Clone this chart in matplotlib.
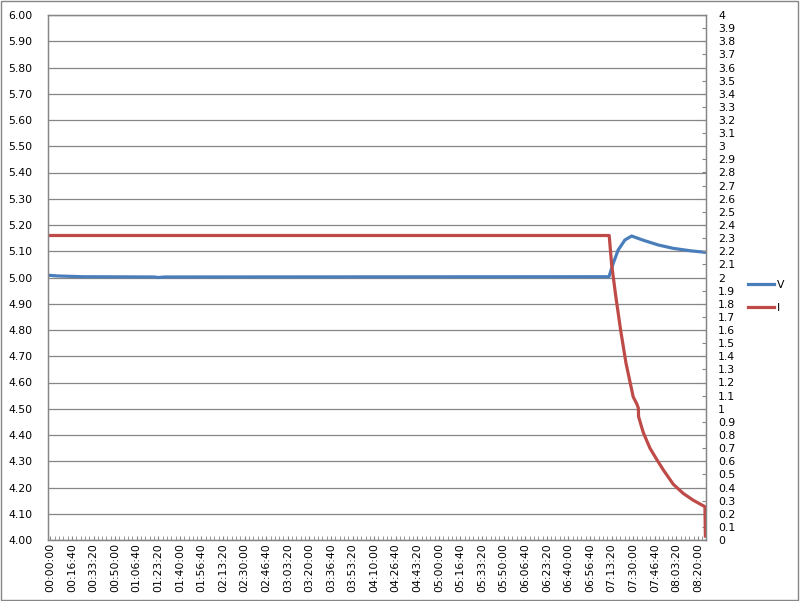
import matplotlib
matplotlib.use("Agg")
import matplotlib.pyplot as plt
from matplotlib.ticker import MultipleLocator, FuncFormatter
from matplotlib.patches import Rectangle

# readings (seconds since start)
t_v = [0, 300, 1500, 4800, 5000, 5300, 25880, 26075, 26307, 26617, 26928,
       27465, 28160, 28856, 29629, 30340]
volts = [5.008, 5.006, 5.003, 5.002, 5.000, 5.002, 5.003, 5.054, 5.105, 5.143,
         5.158, 5.142, 5.124, 5.111, 5.102, 5.096]

t_i = [0, 25889, 26001, 26200, 26418, 26664, 27002, 27160, 27240, 27250,
       27465, 27776, 28086, 28392, 28856, 29319, 29782, 30324, 30345]
amps = [2.32, 2.32, 2.10, 1.85, 1.60, 1.35, 1.09, 1.04, 1.005, 0.94,
        0.82, 0.70, 0.615, 0.535, 0.425, 0.355, 0.303, 0.254, 0.03]

grey = "#868686"
blue = "#4A7EBB"
red = "#BE4B48"
plt.rcParams["font.family"] = ["DejaVu Sans"]
plt.rcParams["font.size"] = 7.8


def hms(s, pos=None):
    s = int(round(s))
    return "%02d:%02d:%02d" % (s // 3600, (s % 3600) // 60, s % 60)


fig = plt.figure(figsize=(8, 6.01), dpi=100)
ax = fig.add_axes([48 / 800, 1 - 540 / 601, (705.7 - 48) / 800, 525 / 601])
ax2 = ax.twinx()

lv, = ax.plot(t_v, volts, color=blue, lw=2.3, label="V", solid_joinstyle="round")
li, = ax2.plot(t_i, amps, color=red, lw=2.3, label="I", solid_joinstyle="round")

ax.set_xlim(-110, 30360)
ax.set_ylim(4.0, 6.0)
ax2.set_ylim(0, 4)

ax.yaxis.set_major_locator(MultipleLocator(0.1))
ax.yaxis.set_major_formatter(FuncFormatter(lambda v, p: "%.2f" % v))
ax.yaxis.grid(True, color=grey, lw=0.9)
ax.tick_params(axis="y", length=0, pad=11)

ax.xaxis.set_major_locator(MultipleLocator(1000))
ax.xaxis.set_minor_locator(MultipleLocator(200))
ax.xaxis.set_major_formatter(FuncFormatter(hms))
ax.tick_params(axis="x", which="both", direction="in", length=3, color=grey,
               pad=2, labelrotation=90)

ax2.yaxis.set_major_locator(MultipleLocator(0.1))
ax2.yaxis.set_major_formatter(FuncFormatter(lambda v, p: "%g" % round(v, 1)))
ax2.tick_params(axis="y", direction="in", length=3, color=grey, pad=9)

for a in (ax, ax2):
    for sp in a.spines.values():
        sp.set_color(grey)
        sp.set_linewidth(0.9)

fig.legend(handles=[lv, li], loc="upper left", bbox_to_anchor=(748 / 800, 1 - 280 / 601),
           frameon=False, borderpad=0, borderaxespad=0, handlelength=2.4,
           handletextpad=0.3, labelspacing=1.2, fontsize=7.8)

fig.patches.append(Rectangle((0.001, 0.001), 0.997, 0.997, transform=fig.transFigure,
                             fill=False, edgecolor=grey, lw=1))

fig.savefig("out.png", dpi=100)
